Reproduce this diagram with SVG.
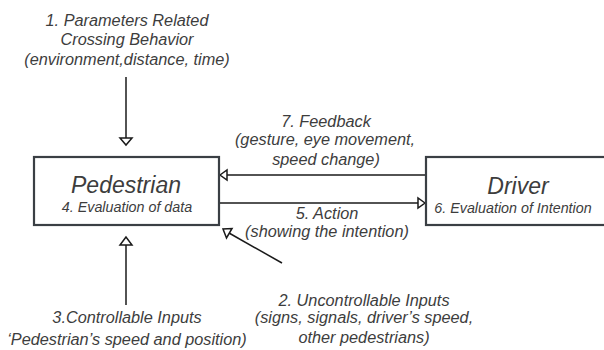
<svg xmlns="http://www.w3.org/2000/svg" width="604" height="350" viewBox="0 0 604 350">
<style>
text{font-family:"Liberation Sans",Arial,sans-serif;font-style:italic;fill:#3d3d3d;text-anchor:middle}
.lbl{font-size:16.3px}
.big{font-size:23px}
.sub{font-size:14.3px}
.box{fill:#fff;stroke:#3a3f44;stroke-width:2.2}
.con{stroke:#1a1a1a;stroke-width:1.5;fill:none}
.head{fill:#fff;stroke:#1a1a1a;stroke-width:1.5}
</style>
<rect width="604" height="350" fill="#fff"/>
<g id="connectors">
<line class="con" x1="126" y1="77" x2="126" y2="138"/>
<polygon class="head" points="120,138 132,138 126,145"/>
<line class="con" x1="426" y1="175" x2="227" y2="175"/>
<polygon class="head" points="220,175 227,170 227,180"/>
<line class="con" x1="220" y1="203" x2="418" y2="203"/>
<polygon class="head" points="425,203 418,198 418,208"/>
<line class="con" x1="126" y1="305" x2="126" y2="245"/>
<polygon class="head" points="126,237 120,245 132,245"/>
<line class="con" x1="282" y1="263" x2="229" y2="233"/>
<polygon class="head" points="223,229 226.5,238 232,228.5"/>
</g>
<g id="pedestrian">
<rect class="box" x="34" y="157" width="185" height="68"/>
<text class="big" x="126" y="193">Pedestrian</text>
<text class="sub" x="127" y="212">4. Evaluation of data</text>
</g>
<g id="driver">
<rect class="box" x="426" y="157" width="190" height="68"/>
<text class="big" x="518" y="194">Driver</text>
<text class="sub" x="513" y="213">6. Evaluation of Intention</text>
</g>
<g id="parameters">
<text class="lbl" x="127" y="26">1. Parameters Related</text>
<text class="lbl" x="127" y="45">Crossing Behavior</text>
<text class="lbl" x="127" y="65">(environment,distance, time)</text>
</g>
<g id="feedback">
<text class="lbl" x="326" y="127">7. Feedback</text>
<text class="lbl" x="325" y="145">(gesture, eye movement,</text>
<text class="lbl" x="326" y="165">speed change)</text>
</g>
<g id="action">
<text class="lbl" x="327" y="219">5. Action</text>
<text class="lbl" x="327" y="237">(showing the intention)</text>
</g>
<g id="controllable">
<text class="lbl" x="127" y="323">3.Controllable Inputs</text>
<text class="lbl" x="127" y="345">‘Pedestrian’s speed and position)</text>
</g>
<g id="uncontrollable">
<text class="lbl" x="364" y="306">2. Uncontrollable Inputs</text>
<text class="lbl" x="364" y="323">(signs, signals, driver’s speed,</text>
<text class="lbl" x="364" y="343">other pedestrians)</text>
</g>
</svg>
